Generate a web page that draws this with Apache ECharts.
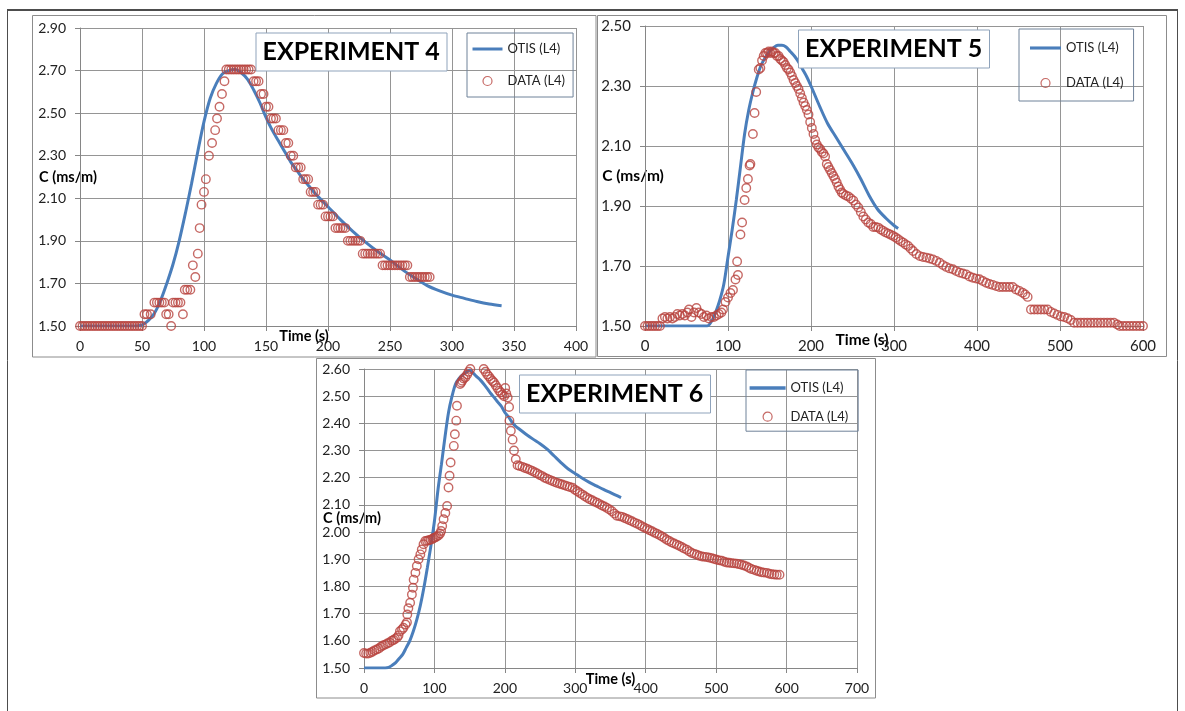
<!DOCTYPE html>
<html>
<head>
<meta charset="utf-8">
<script src="https://cdn.jsdelivr.net/npm/echarts@6/dist/echarts.min.js"></script>
<style>
html,body{margin:0;padding:0;background:#fff;}
#c{width:1185px;height:711px;}
</style>
</head>
<body>
<div id="c"></div>
<script>
// ---------------- DATA ----------------
const seriesNames = ['OTIS (L4)', 'DATA (L4)'];
const panelTitles = ['EXPERIMENT 4', 'EXPERIMENT 5', 'EXPERIMENT 6'];
const xAxisName = 'Time (s)';
const yAxisName = 'C (ms/m)';

// Experiment 4 : [time s, C ms/m]
const exp4Otis = [[0,1.50],[10,1.50],[20,1.50],[30,1.50],[40,1.50],[45,1.50],[50,1.505],[55,1.525],[60,1.56],[65,1.62],[70,1.70],[75,1.79],[80,1.90],[85,2.03],[90,2.17],[95,2.32],[100,2.46],[105,2.57],[110,2.64],[115,2.685],[120,2.70],[125,2.705],[130,2.69],[135,2.66],[140,2.61],[145,2.55],[150,2.48],[155,2.42],[160,2.37],[165,2.32],[170,2.27],[175,2.23],[180,2.19],[185,2.155],[190,2.12],[195,2.09],[200,2.06],[210,2.00],[220,1.945],[230,1.895],[240,1.85],[250,1.81],[260,1.765],[270,1.725],[280,1.69],[290,1.665],[300,1.645],[310,1.63],[320,1.615],[330,1.603],[340,1.595]];
const exp4Data = [[0,1.50],[2,1.50],[4,1.50],[6,1.50],[8,1.50],[10,1.50],[12,1.50],[14,1.50],[16,1.50],[18,1.50],[20,1.50],[22,1.50],[24,1.50],[26,1.50],[28,1.50],[30,1.50],[32,1.50],[34,1.50],[36,1.50],[38,1.50],[40,1.50],[42,1.50],[44,1.50],[46,1.50],[48,1.50],[50,1.50],
[52,1.555],[54,1.555],[57,1.555],[60,1.61],[62,1.61],[64,1.61],[66,1.61],[68,1.61],[69.5,1.555],[71.5,1.555],[73.5,1.50],[75,1.61],[77,1.61],[79,1.61],[81,1.61],[83,1.555],[84.5,1.67],[86.5,1.67],[89,1.67],[91,1.785],[93,1.73],[95,1.84],[96.5,1.96],[98,2.07],[100,2.13],[101.5,2.19],[104,2.30],[106.5,2.36],[109,2.42],[110.5,2.475],[112.5,2.53],[114.5,2.59],[116.5,2.65],
[118,2.705],[120,2.705],[122,2.705],[124,2.705],[126,2.705],[128,2.705],[130,2.705],[132,2.705],[134,2.705],[136,2.705],[138,2.705],
[140,2.65],[142,2.65],[144,2.65],[146,2.59],[148,2.59],[150,2.53],[152,2.53],[154,2.475],[156,2.475],[158,2.475],[160,2.42],[162,2.42],[164,2.42],[166,2.36],[168,2.36],[170,2.30],[172,2.30],[174,2.245],[176,2.245],[178,2.245],[180,2.19],[182,2.19],[184,2.19],[186,2.13],[188,2.13],[190,2.13],[192,2.07],[194,2.07],[196,2.07],[198,2.015],[200,2.015],[202,2.015],[204,2.015],
[206,1.96],[208,1.96],[210,1.96],[212,1.96],[214,1.96],[216,1.90],[218,1.90],[220,1.90],[222,1.90],[224,1.90],[226,1.90],[228,1.84],[230,1.84],[232,1.84],[234,1.84],[236,1.84],[238,1.84],[240,1.84],[242,1.84],
[244,1.785],[246,1.785],[248,1.785],[250,1.785],[252,1.785],[254,1.785],[256,1.785],[258,1.785],[260,1.785],[262,1.785],[264,1.785],[266,1.73],[268,1.73],[270,1.73],[272,1.73],[274,1.73],[276,1.73],[278,1.73],[280,1.73],[282,1.73]];

// Experiment 5
const exp5Otis = [[0,1.50],[20,1.50],[40,1.50],[60,1.50],[75,1.50],[80,1.515],[85,1.545],[90,1.585],[95,1.64],[100,1.73],[105,1.82],[110,1.92],[115,2.03],[120,2.14],[125,2.22],[130,2.28],[135,2.33],[140,2.37],[145,2.395],[150,2.415],[155,2.428],[160,2.436],[165,2.436],[170,2.43],[175,2.415],[180,2.40],[185,2.38],[190,2.355],[195,2.33],[200,2.30],[210,2.235],[220,2.175],[230,2.13],[240,2.085],[250,2.04],[260,1.99],[270,1.935],[280,1.89],[290,1.86],[300,1.835],[305,1.825]];
const exp5Data = [[0,1.50],[3,1.50],[6,1.50],[9,1.50],[12,1.50],[15,1.50],[18,1.50],[21,1.525],[24,1.53],[27,1.525],[30,1.53],[33,1.525],[36,1.53],[39,1.54],[42,1.535],[45,1.54],[48,1.535],[51,1.545],[53,1.555],[56,1.53],[59,1.545],[62,1.56],[65,1.545],[68,1.54],[71,1.53],[74,1.535],[77,1.525],[80,1.53],[83,1.53],[86,1.535],[89,1.54],[92,1.545],[94,1.555],[97,1.58],[100,1.595],[103,1.61],[106,1.62],[109,1.655],[111,1.715],[112,1.67],[115,1.805],[117,1.845],[120,1.92],[122,1.96],[124,1.99],[126,2.035],[127,2.04],[130,2.14],[132,2.21],[134,2.28],[137,2.355],[139,2.36],[141,2.385],[143,2.40],[145,2.41],[147,2.41],[149,2.415],[151,2.41],[153,2.415],[155,2.41],[157,2.41],[159,2.40],[161,2.40],[163,2.39],[165,2.385],[167,2.38],[169,2.37],[171,2.36],[173,2.355],[175,2.345],[177,2.333],[179,2.32],[181,2.31],[183,2.30],[185,2.29],[187,2.275],[189,2.26],[191,2.245],[193,2.233],[195,2.22],[197,2.205],[199,2.18],[201,2.16],[203,2.14],[205,2.12],[207,2.105],[209,2.095],[211,2.09],[213,2.08],[215,2.075],[217,2.065],[219,2.04],[221,2.03],[223,2.02],[225,2.01],[227,2.00],[229,1.99],[231,1.978],[233,1.965],[235,1.955],[237,1.945],[239,1.94],[242,1.935],[245,1.932],[248,1.925],[251,1.918],[254,1.905],[257,1.895],[260,1.88],[263,1.865],[266,1.855],[269,1.845],[272,1.84],[275,1.83],[278,1.83],[281,1.828],[284,1.822],[287,1.817],[290,1.812],[293,1.808],[296,1.804],[299,1.80],[302,1.795],[305,1.789],[308,1.783],[311,1.778],[314,1.772],[317,1.767],[320,1.758],[323,1.75],[327,1.74],[331,1.733],[335,1.73],[339,1.728],[343,1.725],[347,1.722],[351,1.717],[355,1.711],[359,1.703],[363,1.697],[367,1.692],[371,1.689],[375,1.683],[379,1.678],[383,1.675],[387,1.672],[391,1.665],[395,1.661],[399,1.658],[403,1.656],[407,1.65],[411,1.644],[415,1.64],[419,1.637],[423,1.633],[427,1.63],[431,1.63],[435,1.63],[439,1.63],[443,1.63],[447,1.622],[451,1.617],[455,1.611],[458,1.605],[461,1.597],[465,1.555],[469,1.555],[473,1.555],[477,1.555],[481,1.555],[485,1.555],[489,1.547],[493,1.542],[497,1.537],[501,1.532],[505,1.53],[509,1.526],[513,1.52],[517,1.511],[521,1.511],[525,1.511],[529,1.511],[533,1.511],[537,1.511],[541,1.511],[545,1.511],[549,1.511],[553,1.511],[557,1.511],[561,1.511],[565,1.511],[569,1.505],[572,1.50],[576,1.50],[580,1.50],[584,1.50],[588,1.50],[592,1.50],[596,1.50],[600,1.50]];

// Experiment 6
const exp6Otis = [[0,1.50],[10,1.50],[20,1.50],[30,1.50],[35,1.502],[40,1.51],[45,1.52],[50,1.535],[55,1.55],[60,1.575],[65,1.60],[70,1.635],[75,1.678],[80,1.73],[85,1.795],[90,1.87],[95,1.95],[100,2.04],[105,2.155],[110,2.25],[115,2.35],[120,2.44],[125,2.50],[130,2.545],[135,2.565],[140,2.578],[145,2.588],[150,2.595],[155,2.585],[160,2.572],[165,2.56],[170,2.545],[175,2.528],[180,2.51],[185,2.495],[190,2.478],[195,2.463],[200,2.44],[205,2.425],[210,2.405],[215,2.39],[220,2.38],[230,2.36],[240,2.342],[250,2.325],[260,2.305],[270,2.28],[280,2.255],[290,2.232],[300,2.215],[310,2.198],[320,2.183],[330,2.17],[340,2.157],[350,2.145],[360,2.133],[365,2.127]];
const exp6Data = [[0,1.555],[3,1.553],[6,1.553],[9,1.556],[12,1.56],[15,1.565],[18,1.568],[21,1.572],[24,1.578],[27,1.583],[30,1.586],[33,1.59],[36,1.594],[39.5,1.60],[42,1.603],[44,1.607],[47,1.612],[49,1.62],[51,1.635],[54,1.642],[56,1.648],[59,1.66],[61,1.668],[61.5,1.697],[63,1.72],[65.5,1.74],[68,1.77],[69.5,1.795],[70.5,1.825],[73,1.85],[75,1.875],[77.5,1.90],[80,1.918],[82,1.936],[84.5,1.955],[87,1.967],[89.5,1.968],[92,1.97],[94.5,1.972],[97,1.975],[99,1.978],[101,1.98],[103.5,1.984],[106,1.988],[108,1.995],[109.5,2.004],[111,2.022],[113,2.047],[115.5,2.07],[118,2.096],[120,2.164],[121.5,2.207],[123,2.256],[127.5,2.317],[129,2.36],[131,2.41],[132,2.465],[136.5,2.545],[138,2.55],[139.5,2.557],[141.5,2.565],[144,2.57],[146.5,2.58],[148.5,2.59],[151,2.60],
[170,2.60],[172.5,2.59],[175,2.58],[177.5,2.572],[180,2.563],[182.5,2.556],[184.5,2.55],[187,2.54],[189.5,2.53],[192,2.52],[194,2.514],[196.5,2.506],[199,2.50],[200.5,2.53],[202,2.51],[204,2.495],[206,2.46],[206.5,2.41],[208.5,2.373],[211,2.34],[213,2.30],[215.5,2.268],[218,2.246],[221,2.243],[225,2.24],[228.5,2.236],[232,2.233],[235.5,2.229],[239,2.225],[242.5,2.22],[246,2.216],[249.5,2.21],[253,2.206],[256.5,2.20],[260,2.196],[264,2.192],[267.5,2.188],[271,2.184],[274.5,2.181],[278,2.178],[281.5,2.175],[285,2.172],[288.5,2.169],[292,2.166],[296,2.163],[299.5,2.156],[303,2.15],[306.5,2.144],[310,2.138],[313.5,2.132],[317,2.126],[320.5,2.121],[324,2.117],[327.5,2.112],[331,2.108],[334.5,2.103],[338,2.098],[341.5,2.094],[345,2.089],[348.5,2.083],[352,2.077],[355.5,2.068],[359,2.06],[363,2.058],[366.5,2.056],[370,2.052],[373.5,2.048],[377,2.044],[380.5,2.04],[384,2.035],[388,2.031],[391.5,2.026],[395,2.021],[398.5,2.016],[402,2.012],[405.5,2.007],[409,2.003],[412.5,1.998],[416,1.994],[419.5,1.989],[423,1.984],[426.5,1.978],[430,1.972],[433.5,1.967],[437,1.962],[440.5,1.958],[444,1.954],[447.5,1.95],[451,1.945],[454.5,1.94],[458.5,1.935],[462,1.929],[465.5,1.923],[469,1.92],[472.5,1.917],[476,1.913],[480,1.91],[483.5,1.909],[487,1.908],[490.5,1.906],[494,1.904],[497.5,1.901],[501,1.898],[504.5,1.896],[508,1.895],[511.5,1.891],[515,1.888],[518.5,1.887],[522,1.886],[525.5,1.885],[529,1.884],[532.5,1.882],[536,1.88],[539.5,1.877],[543,1.874],[546.5,1.869],[550,1.864],[554,1.861],[557.5,1.858],[561,1.855],[564.5,1.852],[568,1.851],[572,1.85],[575.5,1.847],[579,1.845],[582.5,1.844],[586,1.843],[590,1.843]];

// axis ranges [min, max, interval]
const xRanges = [[0,400,50],[0,600,100],[0,700,100]];
const yRanges = [[1.5,2.9,0.2],[1.5,2.5,0.2],[1.5,2.6,0.1]];

// ---------------- LAYOUT / STYLE ----------------
const FONT = 'Lato, "Liberation Sans", sans-serif';
const BLUE = '#4A7EBB', RED = '#B8433F';
const GRIDC = '#959595', AXISC = '#868686', TXT = '#222';
const L = [
  {grid:{left:80, top:28, width:496, height:298}, title:{left:255.5, top:32.5}, legend:{left:467, top:33, padding:[9.5,8,9.5,5.5], itemGap:19, itemWidth:30},
   xNameGap:3, xShift:24, labelSize:14, nameSize:14.5},
  {grid:{left:645, top:26, width:498, height:300}, title:{left:798, top:29.5}, legend:{left:1019, top:29, padding:[12.5,10,11.5,11], itemGap:22, itemWidth:31},
   xNameGap:6, xShift:32, labelSize:15, nameSize:15.5},
  {grid:{left:364, top:369, width:493, height:299}, title:{left:519, top:374.5}, legend:{left:746, top:370, padding:[11.5,10,8,3.6], itemGap:15.7, itemWidth:36},
   xNameGap:4, xShift:0, labelSize:14, nameSize:14.5}
];
const otisSets = [exp4Otis, exp5Otis, exp6Otis];
const dataSets = [exp4Data, exp5Data, exp6Data];

const grids = [], xAxes = [], yAxes = [], series = [], titles = [], legends = [];
for (let i = 0; i < 3; i++) {
  const lay = L[i];
  grids.push(Object.assign({show:false, containLabel:false, outerBoundsMode:'none'}, lay.grid));
  xAxes.push({
    type:'value', gridIndex:i, min:xRanges[i][0], max:xRanges[i][1], interval:xRanges[i][2],
    name:xAxisName, nameLocation:'middle', nameGap:lay.xNameGap, nameMoveOverlap:false,
    nameTextStyle:{fontFamily:FONT, fontWeight:'bold', fontSize:lay.nameSize, color:'#000', padding:[0, lay.xShift*2, 0, 0]},
    axisLine:{show:true, onZero:false, lineStyle:{color:AXISC, width:1}},
    axisTick:{show:true, length:5, lineStyle:{color:AXISC}},
    axisLabel:{fontFamily:FONT, fontSize:lay.labelSize, color:TXT, margin:13, showMinLabel:true, showMaxLabel:true, hideOverlap:false},
    splitLine:{show:true, lineStyle:{color:GRIDC, width:1}}
  });
  yAxes.push({
    type:'value', gridIndex:i, min:yRanges[i][0], max:yRanges[i][1], interval:yRanges[i][2],
    name:yAxisName, nameLocation:'middle', nameRotate:0, nameGap:12, nameMoveOverlap:false,
    nameTextStyle:{fontFamily:FONT, fontWeight:'bold', fontSize:lay.nameSize, color:'#000', align:'center'},
    axisLine:{show:true, onZero:false, lineStyle:{color:AXISC, width:1}},
    axisTick:{show:true, length:5, lineStyle:{color:AXISC}},
    axisLabel:{fontFamily:FONT, fontSize:lay.labelSize, color:TXT, margin:14, showMinLabel:true, showMaxLabel:true, hideOverlap:false,
      formatter: v => v.toFixed(2)},
    splitLine:{show:true, lineStyle:{color:GRIDC, width:1}}
  });
  series.push({
    name:seriesNames[0], type:'line', xAxisIndex:i, yAxisIndex:i, data:otisSets[i],
    symbol:'none', showSymbol:false, smooth:0.3, lineStyle:{color:BLUE, width:3}, itemStyle:{color:BLUE},
    z:2, silent:true
  });
  series.push({
    name:seriesNames[1], type:'scatter', xAxisIndex:i, yAxisIndex:i, data:dataSets[i],
    symbol:'circle', symbolSize:8.5,
    itemStyle:{color:'rgba(255,255,255,0)', borderColor:RED, borderWidth:1.4},
    z:3, silent:true
  });
  titles.push({
    text:panelTitles[i], left:lay.title.left, top:lay.title.top,
    padding:[7,7,7,7], backgroundColor:'#fff', borderColor:'#8fa3bb', borderWidth:1,
    textStyle:{fontFamily:FONT, fontWeight:'bold', fontSize:25, color:'#000'}
  });
  legends.push({
    left:lay.legend.left, top:lay.legend.top, orient:'vertical', padding:lay.legend.padding,
    itemGap:lay.legend.itemGap, itemWidth:lay.legend.itemWidth, itemHeight:9,
    borderColor:'#6f8299', borderWidth:1, backgroundColor:'rgba(0,0,0,0)', selectedMode:false,
    textStyle:{fontFamily:FONT, fontSize:13, color:TXT},
    data:[
      {name:seriesNames[0], icon:'path://M0,0H30V3H0Z', itemStyle:{color:BLUE, borderWidth:0}},
      {name:seriesNames[1], icon:'circle', itemStyle:{color:'rgba(255,255,255,0)', borderColor:RED, borderWidth:1.2}}
    ]
  });
}

const frames = [
  {x:32.5, y:15.5, width:563.5, height:341.5},
  {x:597.5, y:15.5, width:569, height:341},
  {x:316.5, y:358.5, width:559, height:339.5}
];
const graphics = frames.map(f => ({type:'rect', silent:true, z:-1, shape:f, style:{fill:'none', stroke:'#8c8c8c', lineWidth:1}}));
graphics.push({type:'line', silent:true, shape:{x1:7, y1:10, x2:1178, y2:10}, style:{stroke:'#4d4d4d', lineWidth:2}});
graphics.push({type:'line', silent:true, shape:{x1:7.5, y1:10, x2:7.5, y2:711}, style:{stroke:'#4d4d4d', lineWidth:1}});
graphics.push({type:'line', silent:true, shape:{x1:1177.5, y1:10, x2:1177.5, y2:711}, style:{stroke:'#4d4d4d', lineWidth:1}});

const chart = echarts.init(document.getElementById('c'), null, {renderer:'canvas'});
chart.setOption({
  animation:false,
  backgroundColor:'#fff',
  title:titles, legend:legends, grid:grids, xAxis:xAxes, yAxis:yAxes, series:series,
  graphic:graphics
});
</script>
</body>
</html>
